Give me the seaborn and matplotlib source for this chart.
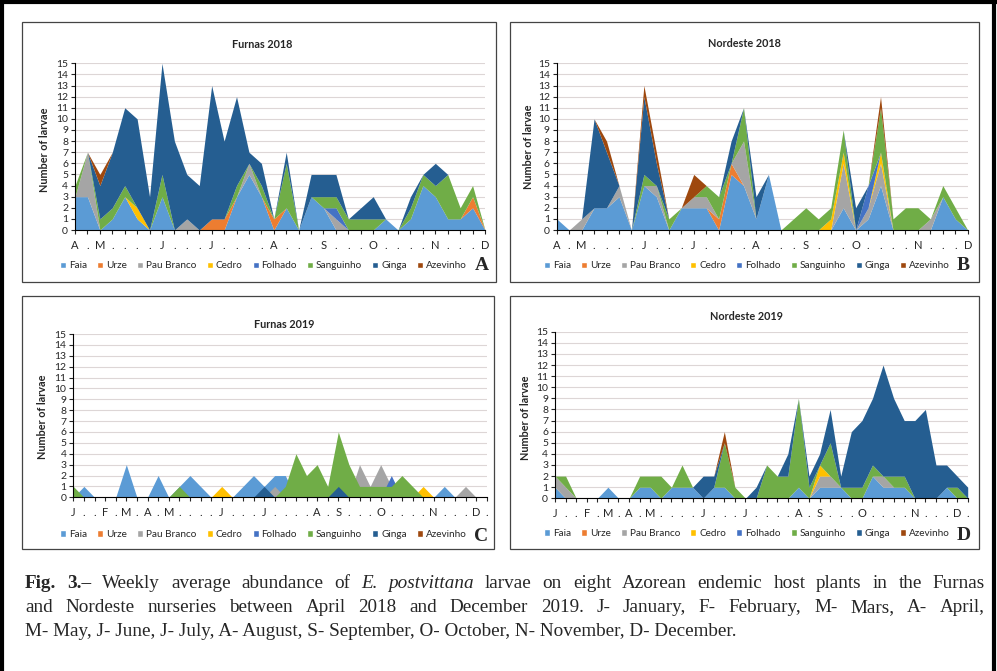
import numpy as np
import matplotlib
matplotlib.use("Agg")
import matplotlib.pyplot as plt
from matplotlib.patches import Patch, Rectangle
from matplotlib.lines import Line2D
import seaborn as sns

W, H = 997, 671

SPECIES = ["Faia", "Urze", "Pau Branco", "Cedro", "Folhado", "Sanguinho", "Ginga", "Azevinho"]
COLORS = ["#5B9BD5", "#ED7D31", "#A5A5A5", "#FFC000", "#4472C4", "#70AD47", "#255E91", "#9E480E"]

# x labels (weekly points)
LABELS_2018 = ["A", ".", "M", ".", ".", ".", ".", "J", ".", ".", ".", "J", ".", ".", ".", ".",
               "A", ".", ".", ".", "S", ".", ".", ".", "O", ".", ".", ".", ".", "N", ".", ".", ".", "D"]
LABELS_2019 = ["J", ".", ".", "F", ".", "M", ".", "A", ".", "M", ".", ".", ".", ".", "J", ".", ".", ".",
               "J", ".", ".", ".", ".", "A", ".", "S", ".", ".", ".", "O", ".", ".", ".", ".",
               "N", ".", ".", ".", "D", "."]

# ── Furnas 2018 (stacked) ────────────────────────────────────────────────
FUR18_FAIA = [3, 3, 0, 1, 3, 1, 0, 3, 0, 0, 0, 0, 0, 3, 5, 3, 0, 2, 0, 3, 2, 0, 0, 0, 0, 1, 0, 1, 4, 3, 1, 1, 2, 0]
FUR18_URZE = [0, 0, 0, 0, 0, 0, 0, 0, 0, 0, 0, 1, 1, 0, 0, 0, 1, 0, 0, 0, 0, 0, 0, 0, 0, 0, 0, 0, 0, 0, 0, 0, 1, 0]
FUR18_PAUB = [0, 4, 0, 0, 0, 0, 0, 0, 0, 1, 0, 0, 0, 0, 1, 0, 0, 0, 0, 0, 0, 1, 0, 0, 0, 0, 0, 0, 0, 0, 0, 0, 0, 0]
FUR18_CEDR = [0, 0, 0, 0, 0, 1, 0, 0, 0, 0, 0, 0, 0, 0, 0, 0, 0, 0, 0, 0, 0, 0, 0, 0, 0, 0, 0, 0, 0, 0, 0, 0, 0, 0]
FUR18_FOLH = [0, 0, 0, 0, 0, 0, 0, 0, 0, 0, 0, 0, 0, 0, 0, 0, 0, 0, 0, 0, 0, 1, 0, 0, 0, 0, 0, 0, 0, 0, 0, 0, 0, 0]
FUR18_SANG = [1, 0, 1, 1, 1, 0, 0, 2, 0, 0, 0, 0, 0, 1, 0, 1, 0, 4, 0, 0, 1, 1, 1, 1, 1, 0, 0, 1, 1, 1, 4, 1, 1, 0]
FUR18_GING = [0, 0, 3, 5, 7, 8, 3, 10, 8, 4, 4, 12, 7, 8, 1, 2, 0, 1, 0, 2, 2, 2, 0, 1, 2, 0, 0, 1, 0, 2, 0, 0, 0, 0]
FUR18_AZEV = [0, 0, 1, 0, 0, 0, 0, 0, 0, 0, 0, 0, 0, 0, 0, 0, 0, 0, 0, 0, 0, 0, 0, 0, 0, 0, 0, 0, 0, 0, 0, 0, 0, 0]

# ── Nordeste 2018 (stacked) ──────────────────────────────────────────────
NOR18_FAIA = [1, 0, 0, 2, 2, 3, 0, 4, 3, 0, 2, 2, 2, 0, 5, 4, 1, 5, 0, 0, 0, 0, 0, 2, 0, 1, 4, 0, 0, 0, 0, 3, 1, 0]
NOR18_URZE = [0, 0, 0, 0, 0, 0, 0, 0, 0, 0, 0, 0, 0, 1, 1, 0, 0, 0, 0, 0, 0, 0, 0, 0, 0, 0, 0, 0, 0, 0, 0, 0, 0, 0]
NOR18_PAUB = [0, 0, 1, 0, 0, 1, 0, 0, 1, 0, 0, 1, 1, 0, 0, 4, 0, 0, 0, 0, 0, 0, 0, 4, 0, 1, 2, 0, 0, 0, 1, 0, 0, 0]
NOR18_CEDR = [0, 0, 0, 0, 0, 0, 0, 0, 0, 0, 0, 0, 0, 0, 0, 0, 0, 0, 0, 0, 0, 0, 1, 1, 0, 0, 1, 0, 0, 0, 0, 0, 0, 0]
NOR18_FOLH = [0, 0, 0, 0, 0, 0, 0, 0, 0, 0, 0, 0, 0, 0, 0, 0, 0, 0, 0, 0, 0, 0, 0, 0, 0, 2, 0, 0, 0, 0, 0, 0, 0, 0]
NOR18_SANG = [0, 0, 0, 0, 0, 0, 0, 1, 0, 1, 0, 0, 1, 2, 0, 3, 0, 0, 0, 1, 2, 1, 1, 2, 0, 0, 4, 1, 2, 2, 0, 1, 1, 0]
NOR18_GING = [0, 0, 0, 8, 5, 0, 0, 7, 2, 0, 0, 0, 0, 0, 2, 0, 2, 0, 0, 0, 0, 0, 0, 0, 2, 0, 0, 0, 0, 0, 0, 0, 0, 0]
NOR18_AZEV = [0, 0, 0, 0, 1, 0, 0, 1, 1, 0, 0, 2, 0, 0, 0, 0, 0, 0, 0, 0, 0, 0, 0, 0, 0, 0, 1, 0, 0, 0, 0, 0, 0, 0]

# ── Furnas 2019 (overlapping areas) ──────────────────────────────────────
FUR19_FAIA = [0, 1, 0, 0, 0, 3, 0, 0, 2, 0, 1, 2, 1, 0, 0, 0, 1, 2, 1, 2, 2, 0, 0, 0, 0, 0, 0, 0, 0, 0, 0, 0, 0, 0, 0, 1, 0, 0, 0, 0]
FUR19_URZE = [0, 0, 0, 0, 0, 0, 0, 0, 0, 0, 0, 0, 0, 0, 0, 0, 0, 0, 0, 0, 0, 0, 0, 0, 0, 0, 0, 0, 0, 0, 0, 0, 0, 0, 0, 0, 0, 0, 0, 0]
FUR19_PAUB = [0, 0, 0, 0, 0, 0, 0, 0, 0, 0, 0, 0, 0, 0, 0, 0, 0, 0, 0, 1, 0, 0, 0, 0, 0, 0, 0, 3, 1, 3, 1, 0, 0, 0, 0, 0, 0, 1, 0, 0]
FUR19_CEDR = [0, 0, 0, 0, 0, 0, 0, 0, 0, 0, 0, 0, 0, 0, 1, 0, 0, 0, 0, 0, 0, 0, 0, 0, 0, 0, 0, 0, 0, 0, 0, 0, 0, 1, 0, 0, 0, 0, 0, 0]
FUR19_FOLH = [0, 0, 0, 0, 0, 0, 0, 0, 0, 0, 0, 0, 0, 0, 0, 0, 0, 0, 0, 0, 0, 0, 0, 0, 0, 0, 0, 0, 0, 0, 2, 0, 0, 0, 0, 0, 0, 0, 0, 0]
FUR19_SANG = [1, 0, 0, 0, 0, 0, 0, 0, 0, 0, 1, 0, 0, 0, 0, 0, 0, 0, 0, 0, 1, 4, 2, 3, 1, 6, 3, 1, 1, 1, 1, 2, 1, 0, 0, 0, 0, 0, 0, 0]
FUR19_GING = [0, 0, 0, 0, 0, 0, 0, 0, 0, 0, 0, 0, 0, 0, 0, 0, 0, 0, 1, 0, 0, 0, 0, 0, 0, 1, 0, 0, 0, 0, 0, 0, 0, 0, 0, 0, 0, 0, 0, 0]
FUR19_AZEV = [0, 0, 0, 0, 0, 0, 0, 0, 0, 0, 0, 0, 0, 0, 0, 0, 0, 0, 0, 0, 0, 0, 0, 0, 0, 0, 0, 0, 0, 0, 0, 0, 0, 0, 0, 0, 0, 0, 0, 0]

# ── Nordeste 2019 (stacked) ──────────────────────────────────────────────
NOR19_FAIA = [1, 0, 0, 0, 0, 1, 0, 0, 1, 1, 0, 1, 1, 1, 0, 1, 1, 0, 0, 0, 0, 0, 0, 1, 0, 1, 1, 1, 0, 0, 2, 1, 1, 1, 0, 0, 0, 1, 0, 0]
NOR19_URZE = [0, 0, 0, 0, 0, 0, 0, 0, 0, 0, 0, 0, 0, 0, 0, 0, 0, 0, 0, 0, 0, 0, 0, 0, 0, 0, 0, 0, 0, 0, 0, 0, 0, 0, 0, 0, 0, 0, 0, 0]
NOR19_PAUB = [1, 1, 0, 0, 0, 0, 0, 0, 0, 0, 0, 0, 0, 0, 0, 0, 0, 0, 0, 0, 0, 0, 0, 0, 0, 1, 1, 0, 0, 0, 0, 1, 0, 0, 0, 0, 0, 0, 0, 0]
NOR19_CEDR = [0, 0, 0, 0, 0, 0, 0, 0, 0, 0, 0, 0, 0, 0, 0, 0, 0, 0, 0, 0, 0, 0, 0, 0, 0, 1, 0, 0, 0, 0, 0, 0, 0, 0, 0, 0, 0, 0, 0, 0]
NOR19_FOLH = [0, 0, 0, 0, 0, 0, 0, 0, 0, 0, 0, 0, 0, 0, 0, 0, 0, 0, 0, 0, 0, 0, 0, 0, 0, 0, 0, 0, 0, 0, 0, 0, 0, 0, 0, 0, 0, 0, 0, 0]
NOR19_SANG = [0, 1, 0, 0, 0, 0, 0, 0, 1, 1, 2, 0, 2, 0, 0, 0, 4, 1, 0, 0, 3, 2, 2, 8, 1, 0, 3, 0, 1, 1, 1, 0, 1, 1, 0, 0, 0, 0, 1, 0]
NOR19_GING = [0, 0, 0, 0, 0, 0, 0, 0, 0, 0, 0, 0, 0, 0, 2, 1, 0, 0, 0, 1, 0, 0, 2, 0, 1, 1, 3, 1, 5, 6, 6, 10, 7, 5, 7, 8, 3, 2, 1, 1]
NOR19_AZEV = [0, 0, 0, 0, 0, 0, 0, 0, 0, 0, 0, 0, 0, 0, 0, 0, 1, 0, 0, 0, 0, 0, 0, 0, 0, 0, 0, 0, 0, 0, 0, 0, 0, 0, 0, 0, 0, 0, 0, 0]

CAPTION_L1 = [("Fig.", "bold", "normal"), ("3.–", "bold", "normal"), ("Weekly", "normal", "normal"),
              ("average", "normal", "normal"), ("abundance", "normal", "normal"), ("of", "normal", "normal"),
              ("E.", "normal", "italic"), ("postvittana", "normal", "italic"), ("larvae", "normal", "normal"),
              ("on", "normal", "normal"), ("eight", "normal", "normal"), ("Azorean", "normal", "normal"),
              ("endemic", "normal", "normal"), ("host", "normal", "normal"), ("plants", "normal", "normal"),
              ("in", "normal", "normal"), ("the", "normal", "normal"), ("Furnas", "normal", "normal")]
CAPTION_L2 = "and Nordeste nurseries between April 2018 and December 2019. J- January, F- February, M- Mars, A- April,"
CAPTION_L3 = "M- May, J- June, J- July, A- August, S- September, O- October, N- November, D- December."

sns.set_theme(style="white")
plt.rcParams["font.family"] = ["Lato", "DejaVu Sans"]

fig = plt.figure(figsize=(W / 100, H / 100), dpi=100)
fig.patch.set_facecolor("white")


def fx(x):
    return x / W


def fy(y):
    return 1 - y / H


def draw_panel(rect, series, labels, stacked, title, title_xy, ylab_xy, legend_xy, letter, letter_xy, frame):
    l, t, r, b = rect
    ax = fig.add_axes([fx(l), fy(b), fx(r - l), (b - t) / H])
    x = np.arange(len(labels))
    if stacked:
        ax.stackplot(x, *series, colors=COLORS, linewidth=0)
    else:
        for vals, c in zip(series, COLORS):
            ax.fill_between(x, 0, vals, color=c, linewidth=0)
    ax.set_xlim(0, len(labels) - 1)
    ax.set_ylim(0, 15)
    ax.set_yticks(range(16))
    ax.set_xticks(x)
    ax.set_xticklabels(labels, fontsize=8)
    ax.tick_params(axis="y", labelsize=7.5, length=3, width=0.8, direction="out", left=True, pad=2)
    ax.tick_params(axis="x", length=3, width=0.8, direction="out", bottom=True, pad=4)
    ax.grid(axis="y", color="#DDD6D6", lw=0.8)
    ax.set_axisbelow(True)
    for s in ["top", "right"]:
        ax.spines[s].set_visible(False)
    for s in ["left", "bottom"]:
        ax.spines[s].set_color("black")
        ax.spines[s].set_linewidth(0.8)
        ax.spines[s].set_zorder(5)

    fig.text(fx(title_xy[0]), fy(title_xy[1]), title, fontsize=7.8, weight="bold", ha="center", va="center")
    fig.text(fx(ylab_xy[0]), fy(ylab_xy[1]), "Number of larvae", fontsize=7.8, weight="bold",
             rotation=90, ha="center", va="center")
    handles = [Patch(facecolor=c, label=s) for s, c in zip(SPECIES, COLORS)]
    ax.legend(handles=handles, ncol=8, loc="center", bbox_to_anchor=(fx(legend_xy[0]), fy(legend_xy[1])),
              bbox_transform=fig.transFigure, frameon=False, fontsize=7.2, handlelength=0.6,
              handleheight=0.6, handletextpad=0.3, columnspacing=1.0, borderpad=0)
    fig.text(fx(letter_xy[0]), fy(letter_xy[1]), letter, family=["Liberation Serif"], weight="bold",
             fontsize=14, ha="center", va="center")
    fl, ft, fr, fb = frame
    fig.add_artist(Rectangle((fx(fl), fy(fb)), fx(fr - fl), (fb - ft) / H, transform=fig.transFigure,
                             fill=False, ec="#444444", lw=0.9))
    return ax


draw_panel((75, 63.3, 485, 230),
           [FUR18_FAIA, FUR18_URZE, FUR18_PAUB, FUR18_CEDR, FUR18_FOLH, FUR18_SANG, FUR18_GING, FUR18_AZEV],
           LABELS_2018, True, "Furnas 2018", (262, 44), (44, 150), (263.5, 266), "A", (481.5, 266),
           (22, 22, 496, 282))
draw_panel((556.7, 63.3, 967.7, 230),
           [NOR18_FAIA, NOR18_URZE, NOR18_PAUB, NOR18_CEDR, NOR18_FOLH, NOR18_SANG, NOR18_GING, NOR18_AZEV],
           LABELS_2018, True, "Nordeste 2018", (744, 43.5), (528, 147), (747, 266), "B", (963.5, 266),
           (510, 22, 979, 282))
draw_panel((73.3, 334, 486.7, 497.3),
           [FUR19_FAIA, FUR19_URZE, FUR19_PAUB, FUR19_CEDR, FUR19_FOLH, FUR19_SANG, FUR19_GING, FUR19_AZEV],
           LABELS_2019, False, "Furnas 2019", (284, 325), (43, 417), (263.5, 534.5), "C", (481, 536.5),
           (22, 296, 494, 549))
draw_panel((555, 331.7, 967.7, 498.3),
           [NOR19_FAIA, NOR19_URZE, NOR19_PAUB, NOR19_CEDR, NOR19_FOLH, NOR19_SANG, NOR19_GING, NOR19_AZEV],
           LABELS_2019, True, "Nordeste 2019", (746, 317), (525, 418), (747, 533.5), "D", (964, 535.5),
           (510, 296, 979, 549))

# ── Caption ──────────────────────────────────────────────────────────────
CAP_FS = 13.8
CAP_FONT = ["Liberation Serif"]
renderer = fig.canvas.get_renderer()


def justified(words, x0, x1, y):
    arts = []
    widths = []
    for w, weight, style in words:
        t = fig.text(0, fy(y), w, fontsize=CAP_FS, family=CAP_FONT, weight=weight, style=style,
                     ha="left", va="baseline")
        arts.append(t)
        widths.append(t.get_window_extent(renderer).width)
    gap = (x1 - x0 - sum(widths)) / (len(words) - 1)
    x = x0
    for t, w in zip(arts, widths):
        t.set_x(fx(x))
        x += w + gap


justified(CAPTION_L1, 25, 985, 588)
justified([(w, "normal", "normal") for w in CAPTION_L2.split()], 25, 985, 612)
fig.text(fx(25), fy(636), CAPTION_L3, fontsize=CAP_FS, family=CAP_FONT, ha="left", va="baseline")

# outer frame (left, top, right)
for xs, ys in [((0.002, 0.002), (0, 1)), ((0, 1), (0.997, 0.997)), ((0.997, 0.997), (0, 1))]:
    fig.add_artist(Line2D(xs, ys, transform=fig.transFigure, color="black", lw=3))

fig.savefig("out.png", dpi=100)
